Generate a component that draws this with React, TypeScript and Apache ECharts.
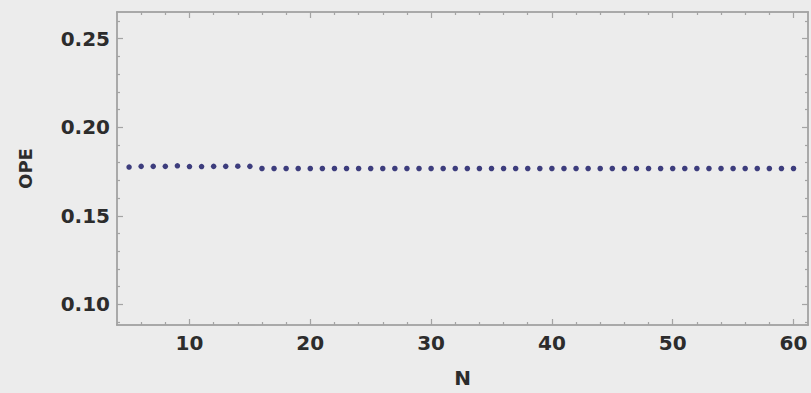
import React, { useEffect, useRef } from "react";
import * as echarts from "echarts";

const nValues: number[] = [
  5, 6, 7, 8, 9, 10, 11, 12, 13, 14, 15, 16, 17, 18, 19, 20, 21, 22, 23, 24, 25,
  26, 27, 28, 29, 30, 31, 32, 33, 34, 35, 36, 37, 38, 39, 40, 41, 42, 43, 44, 45,
  46, 47, 48, 49, 50, 51, 52, 53, 54, 55, 56, 57, 58, 59, 60,
];
const opeValues: number[] = [
  0.1775, 0.1779, 0.1779, 0.1779, 0.1782, 0.1778, 0.1778, 0.1779, 0.1779, 0.178, 0.1779,
  0.1767, 0.1767, 0.1767, 0.1767, 0.1767, 0.1767, 0.1767, 0.1767, 0.1767, 0.1767,
  0.1767, 0.1767, 0.1767, 0.1767, 0.1767, 0.1767, 0.1767, 0.1767, 0.1767, 0.1767,
  0.1767, 0.1767, 0.1767, 0.1767, 0.1767, 0.1767, 0.1767, 0.1767, 0.1767, 0.1767,
  0.1767, 0.1767, 0.1767, 0.1767, 0.1767, 0.1767, 0.1767, 0.1767, 0.1767, 0.1767,
  0.1767, 0.1767, 0.1767, 0.1767, 0.1767,
];
const xMajorTicks: number[] = [10, 20, 30, 40, 50, 60];
const xMinorTicks: number[] = [6, 8, 12, 14, 16, 18, 22, 24, 26, 28, 32, 34, 36, 38, 42, 44, 46, 48, 52, 54, 56, 58];
const yMajorTicks: number[] = [0.1, 0.15, 0.2, 0.25];
const yMinorTicks: number[] = [0.09, 0.11, 0.12, 0.13, 0.14, 0.16, 0.17, 0.18, 0.19, 0.21, 0.22, 0.23, 0.24, 0.26];

export default function App() {
  const ref = useRef<HTMLDivElement>(null);
  useEffect(() => {
    document.body.style.margin = "0";
    document.body.style.background = "#ececec";
    const chart = echarts.init(ref.current!, null, { renderer: "svg" });
    const frame = "#a4a4a4";
    const font = "DejaVu Sans";
    const labelStyle = { color: "#2c2c2c", fontFamily: font, fontWeight: "bold" as const, fontSize: 20 };
    const xBase = (pos: "bottom" | "top", ticks: number[], len: number, labels: boolean) => ({
      type: "value" as const,
      position: pos,
      min: 4,
      max: 61.2,
      axisLine: { show: true, onZero: false, lineStyle: { color: frame, width: 1.5 } },
      axisTick: { show: true, inside: true, length: len, customValues: ticks, lineStyle: { color: frame, width: 1.2 } },
      axisLabel: labels
        ? { show: true, customValues: xMajorTicks, margin: 8, ...labelStyle }
        : { show: false },
      splitLine: { show: false },
    });
    const yBase = (pos: "left" | "right", ticks: number[], len: number, labels: boolean) => ({
      type: "value" as const,
      position: pos,
      min: 0.0884,
      max: 0.265,
      axisLine: { show: true, onZero: false, lineStyle: { color: frame, width: 1.5 } },
      axisTick: { show: true, inside: true, length: len, customValues: ticks, lineStyle: { color: frame, width: 1.2 } },
      axisLabel: labels
        ? {
            show: true,
            customValues: yMajorTicks,
            margin: 7,
            formatter: (v: number) => v.toFixed(2),
            ...labelStyle,
          }
        : { show: false },
      splitLine: { show: false },
    });
    const xAxes: any[] = [
      { ...xBase("bottom", xMajorTicks, 6, true), name: "N", nameLocation: "middle", nameGap: 43, nameTextStyle: { ...labelStyle, fontSize: 20 } },
      xBase("bottom", xMinorTicks, 3, false),
      xBase("top", xMajorTicks, 6, false),
      xBase("top", xMinorTicks, 3, false),
    ];
    const yAxes: any[] = [
      { ...yBase("left", yMajorTicks, 6, true), name: "OPE", nameLocation: "middle", nameGap: 83, nameRotate: 90, nameTextStyle: { ...labelStyle, fontSize: 18 } },
      yBase("left", yMinorTicks, 3, false),
      yBase("right", yMajorTicks, 6, false),
      yBase("right", yMinorTicks, 3, false),
    ];
    chart.setOption({
      animation: false,
      backgroundColor: "#ececec",
      grid: { left: 117, right: 3, top: 12, bottom: 61, containLabel: false },
      xAxis: xAxes,
      yAxis: yAxes,
      series: [
        {
          type: "scatter",
          xAxisIndex: 0,
          yAxisIndex: 0,
          symbol: "circle",
          symbolSize: 5.5,
          itemStyle: { color: "#121262" },
          data: nValues.map((n, i) => [n, opeValues[i]]),
        },
      ],
    });
    return () => chart.dispose();
  }, []);
  return <div ref={ref} style={{ width: 811, height: 393 }} />;
}
